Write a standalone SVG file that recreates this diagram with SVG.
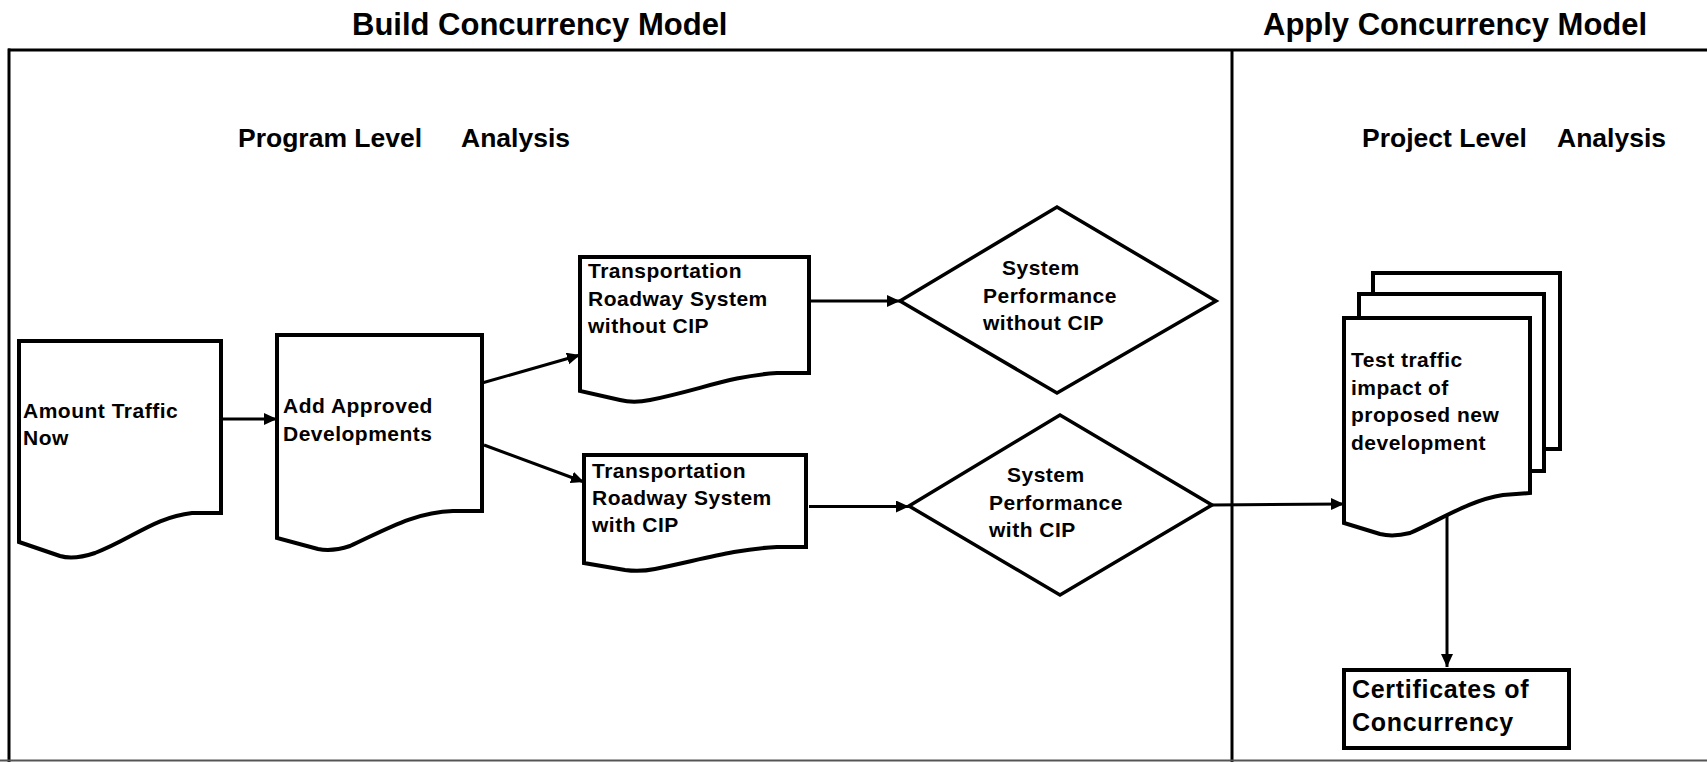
<svg xmlns="http://www.w3.org/2000/svg" width="1707" height="762" viewBox="0 0 1707 762">
<style>
text{font-family:"Liberation Sans",Arial,sans-serif;font-weight:bold;fill:#000}
.title{font-size:31px}
.sub{font-size:26.5px}
.lbl{font-size:21px;letter-spacing:0.5px}
.big{font-size:25px;letter-spacing:0.7px}
.shape{fill:#fff;stroke:#000;stroke-width:4;stroke-linejoin:miter}
.dia{fill:#fff;stroke:#000;stroke-width:3.5}
.frame{stroke:#000;stroke-width:3;fill:none}
.conn{stroke:#000;stroke-width:3;fill:none}
</style>
<defs>
<marker id="arr" markerUnits="userSpaceOnUse" markerWidth="14" markerHeight="13" refX="13" refY="6" orient="auto">
<path d="M0,0 L13,6 L0,12 Z" fill="#000"/>
</marker>
</defs>
<rect width="1707" height="762" fill="#fff"/>
<g id="frame">
<line class="frame" x1="8" y1="50" x2="1707" y2="50"/>
<line class="frame" x1="9" y1="48.5" x2="9" y2="762"/>
<line class="frame" x1="1232" y1="50" x2="1232" y2="762"/>
<line x1="0" y1="760.5" x2="1707" y2="760.5" stroke="#555" stroke-width="2"/>
</g>
<g id="titles">
<text class="title" x="352" y="35">Build Concurrency Model</text>
<text class="title" x="1263" y="35">Apply Concurrency Model</text>
<text class="sub" y="147"><tspan x="238">Program Level</tspan><tspan x="461">Analysis</tspan></text>
<text class="sub" y="147"><tspan x="1362">Project Level</tspan><tspan x="1557">Analysis</tspan></text>
</g>
<g id="connectors">
<line class="conn" x1="221" y1="419" x2="277" y2="419" marker-end="url(#arr)"/>
<line class="conn" x1="482" y1="383" x2="580" y2="355" marker-end="url(#arr)"/>
<line class="conn" x1="484" y1="445" x2="584" y2="482" marker-end="url(#arr)"/>
<line class="conn" x1="811" y1="301" x2="900" y2="301" marker-end="url(#arr)"/>
<line class="conn" x1="809" y1="506.5" x2="909" y2="506.5" marker-end="url(#arr)"/>
<line class="conn" x1="1212" y1="505" x2="1344" y2="504" marker-end="url(#arr)"/>
<line class="conn" x1="1447" y1="515" x2="1447" y2="667" marker-end="url(#arr)"/>
</g>
<g id="node-amount-traffic">
<path class="shape" d="M19,341 H221 V513 H192 C155,517 130,540 95,553 C80,558 70,559 60,556 L19,542 Z"/>
<text class="lbl"><tspan x="23" y="418">Amount Traffic</tspan><tspan x="23" y="445">Now</tspan></text>
</g>
<g id="node-add-approved">
<path class="shape" d="M277,335 H482 V511 H453 C415,512 385,530 350,546 C338,550 328,551 318,549 L277,538 Z"/>
<text class="lbl"><tspan x="283" y="413">Add Approved</tspan><tspan x="283" y="441">Developments</tspan></text>
</g>
<g id="node-roadway-without">
<path class="shape" d="M580,257 H809 V373 H777 C730,376 700,390 650,400 C640,402 628,402 620,400 L580,391 Z"/>
<text class="lbl"><tspan x="588" y="278">Transportation</tspan><tspan x="588" y="306">Roadway System</tspan><tspan x="588" y="333">without CIP</tspan></text>
</g>
<g id="node-roadway-with">
<path class="shape" d="M584,455 H806 V547 H777 C735,549 700,560 655,569 C645,571 632,571 625,570 L584,563 Z"/>
<text class="lbl"><tspan x="592" y="478">Transportation</tspan><tspan x="592" y="505">Roadway System</tspan><tspan x="592" y="532">with CIP</tspan></text>
</g>
<g id="node-perf-without">
<polygon class="dia" points="900,301 1057,207 1216,301 1057,393"/>
<text class="lbl"><tspan x="1002" y="275">System</tspan><tspan x="983" y="303">Performance</tspan><tspan x="983" y="330">without CIP</tspan></text>
</g>
<g id="node-perf-with">
<polygon class="dia" points="909,506 1060,415 1212,505 1060,595"/>
<text class="lbl"><tspan x="1007" y="482">System</tspan><tspan x="989" y="510">Performance</tspan><tspan x="989" y="537">with CIP</tspan></text>
</g>
<g id="node-test-traffic">
<rect class="shape" x="1373" y="273" width="187" height="176"/>
<rect class="shape" x="1359" y="294" width="185" height="177"/>
<path class="shape" d="M1344,318 H1530 V493 L1503,495 C1470,500 1440,520 1410,533 C1398,536 1388,536 1380,534 L1344,523 Z"/>
<text class="lbl"><tspan x="1351" y="367">Test traffic</tspan><tspan x="1351" y="395">impact of</tspan><tspan x="1351" y="422">proposed new</tspan><tspan x="1351" y="450">development</tspan></text>
</g>
<g id="node-certificates">
<rect class="shape" x="1344" y="670" width="225" height="78"/>
<text class="big"><tspan x="1352" y="698">Certificates of</tspan><tspan x="1352" y="731">Concurrency</tspan></text>
</g>
</svg>
